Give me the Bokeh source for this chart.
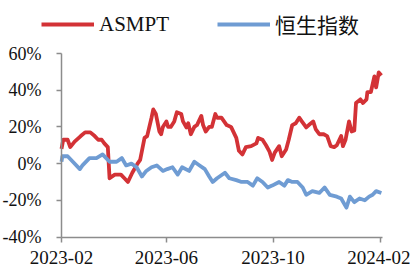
import pandas as pd
from bokeh.plotting import figure
from bokeh.models import (Legend, LegendItem, FixedTicker, PrintfTickFormatter, Range1d)
from bokeh.embed import file_html
from bokeh.resources import INLINE

# ---- data (cumulative return, %) ----
asmpt_dates = [
    "2023-02-01", "2023-02-03", "2023-02-08", "2023-02-11", "2023-02-16", "2023-02-23",
    "2023-02-28", "2023-03-06", "2023-03-11", "2023-03-15", "2023-03-19", "2023-03-22",
    "2023-03-26", "2023-03-28", "2023-04-03", "2023-04-10", "2023-04-14", "2023-04-18",
    "2023-04-23", "2023-04-29", "2023-05-02", "2023-05-07", "2023-05-10", "2023-05-15",
    "2023-05-17", "2023-05-20", "2023-05-24", "2023-05-26", "2023-05-28", "2023-06-01",
    "2023-06-03", "2023-06-06", "2023-06-10", "2023-06-13", "2023-06-18", "2023-06-20",
    "2023-06-24", "2023-06-26", "2023-06-29", "2023-07-03", "2023-07-06", "2023-07-11",
    "2023-07-13", "2023-07-16", "2023-07-20", "2023-07-23", "2023-07-27", "2023-07-29",
    "2023-08-03", "2023-08-09", "2023-08-14", "2023-08-20", "2023-08-23", "2023-08-27",
    "2023-08-31", "2023-09-06", "2023-09-12", "2023-09-14", "2023-09-19", "2023-09-23",
    "2023-09-27", "2023-09-30", "2023-10-03", "2023-10-08", "2023-10-11", "2023-10-16",
    "2023-10-19", "2023-10-23", "2023-10-27", "2023-10-31", "2023-11-03", "2023-11-08",
    "2023-11-11", "2023-11-16", "2023-11-19", "2023-11-23", "2023-11-28", "2023-12-02",
    "2023-12-06", "2023-12-10", "2023-12-13", "2023-12-18", "2023-12-20", "2023-12-23",
    "2023-12-27", "2023-12-30", "2024-01-02", "2024-01-04", "2024-01-09", "2024-01-12",
    "2024-01-16", "2024-01-17", "2024-01-21", "2024-01-25", "2024-01-27", "2024-01-30",
    "2024-02-02",
]
asmpt_values = [
    8, 13, 13, 9, 12, 15,
    17, 17, 15, 13, 13, 11,
    9, -8, -6, -6, -8, -10,
    -5, 0, 2, 14, 15, 25,
    29.5, 27, 17.5, 16, 20, 23,
    20, 20, 23, 28, 27, 23,
    19.7, 22, 16, 20, 21, 26,
    21, 17.5, 20, 20, 27, 25,
    25, 21, 20, 14, 7, 5,
    9, 9.5, 11, 14, 13, 10,
    6.5, 2, 6, 9.5, 4, 7.7,
    13, 21, 22, 25, 23, 19.7,
    21, 23, 18.6, 16, 16, 15,
    9.5, 9, 10, 15, 9.5, 13,
    23, 17.5, 18, 33, 35, 33,
    35, 39, 39, 47.5, 41.5, 49.7,
    48,
]

hsi_dates = [
    "2023-02-01", "2023-02-02", "2023-02-08", "2023-02-14", "2023-02-22", "2023-02-25",
    "2023-03-05", "2023-03-13", "2023-03-20", "2023-03-28", "2023-04-05", "2023-04-11",
    "2023-04-16", "2023-04-22", "2023-04-28", "2023-05-04", "2023-05-09", "2023-05-15",
    "2023-05-21", "2023-05-28", "2023-06-02", "2023-06-08", "2023-06-14", "2023-06-19",
    "2023-06-27", "2023-07-03", "2023-07-09", "2023-07-15", "2023-07-20", "2023-07-24",
    "2023-07-29", "2023-08-07", "2023-08-12", "2023-08-20", "2023-08-26", "2023-09-02",
    "2023-09-08", "2023-09-13", "2023-09-19", "2023-09-25", "2023-09-30", "2023-10-08",
    "2023-10-14", "2023-10-18", "2023-10-23", "2023-10-29", "2023-11-04", "2023-11-08",
    "2023-11-15", "2023-11-23", "2023-11-29", "2023-12-05", "2023-12-13", "2023-12-18",
    "2023-12-24", "2023-12-28", "2024-01-02", "2024-01-08", "2024-01-14", "2024-01-19",
    "2024-01-23", "2024-01-27", "2024-02-02",
]
hsi_values = [
    1, 4, 4, 1, -3, -1,
    3, 3, 5, 1, 1, 3,
    -1, 0, -2, -7, -4, -2,
    -1, -4, -3, -2, -6, -2,
    -4, 1, -1, -3, -7, -10,
    -8, -5, -8, -9, -10, -10,
    -12, -8, -10, -13, -12, -10,
    -12, -9, -10, -10, -13, -17,
    -15, -16, -13, -17, -18, -19,
    -24, -18, -21, -19, -20, -18,
    -17, -15, -16,
]

series_names = ["ASMPT", "恒生指数"]
y_ticks = [-40, -20, 0, 20, 40, 60]
x_tick_dates = ["2023-02-01", "2023-06-01", "2023-10-01", "2024-02-01"]
x_tick_labels = ["2023-02", "2023-06", "2023-10", "2024-02"]

RED = "#D33236"
BLUE = "#6F9CD3"
AXIS = "#8C8C8C"
FONT = "Times New Roman"

# ---- layout (pixels inside the figure) ----
W, H = 410, 267
AX_LEFT_PX = 61          # x pixel of the first x tick (y axis position)
AX_TICKSPAN_PX = 319     # pixels between first and last x tick
Y_BOT_PX = 236.5         # pixel row of the lowest y tick
Y_TOP_PX = 53.0          # pixel row of the highest y tick

t_first = pd.Timestamp(x_tick_dates[0])
t_last = pd.Timestamp(x_tick_dates[-1])
px_per_ms = AX_TICKSPAN_PX / ((t_last - t_first).total_seconds() * 1000.0)
xs = t_first - pd.Timedelta(milliseconds=AX_LEFT_PX / px_per_ms)
xe = t_first + pd.Timedelta(milliseconds=(W - AX_LEFT_PX) / px_per_ms)
px_per_pct = (Y_BOT_PX - Y_TOP_PX) / (y_ticks[-1] - y_ticks[0])
y_lo = y_ticks[0] - (H - Y_BOT_PX) / px_per_pct
y_hi = y_ticks[-1] + Y_TOP_PX / px_per_pct

p = figure(width=W, height=H, output_backend="svg", toolbar_location=None,
           x_axis_type="datetime",
           x_range=Range1d(xs, xe), y_range=Range1d(y_lo, y_hi),
           min_border_left=0, min_border_right=0, min_border_top=0,
           min_border_bottom=0)
p.outline_line_color = None
p.xgrid.visible = False
p.ygrid.visible = False
p.background_fill_color = "white"
p.border_fill_color = "white"

r1 = p.line(pd.to_datetime(asmpt_dates), asmpt_values, line_color=RED, line_width=3.8,
            line_join="round")
r2 = p.line(pd.to_datetime(hsi_dates), hsi_values, line_color=BLUE, line_width=3.8,
            line_join="round")

first_ms = t_first.value // 10**6
yax = p.yaxis[0]
xax = p.xaxis[0]

# y axis, placed at the first date
yax.fixed_location = first_ms
yax.bounds = (y_ticks[0], y_ticks[-1])
yax.ticker = FixedTicker(ticks=y_ticks)
yax.formatter = PrintfTickFormatter(format="%d%%")
yax.minor_tick_line_color = None
yax.major_tick_in = 0
yax.major_tick_out = 5
yax.major_label_standoff = 15
yax.major_label_text_font_size = "18px"

# x axis, placed at the lowest y tick
tick_ms = [pd.Timestamp(d).value // 10**6 for d in x_tick_dates]
xax.fixed_location = y_ticks[0]
xax.ticker = FixedTicker(ticks=tick_ms)
xax.bounds = (first_ms, pd.Timestamp("2024-02-03").value // 10**6)
xax.major_label_overrides = {t: lab for t, lab in zip(tick_ms, x_tick_labels)}
xax.minor_tick_line_color = None
xax.major_tick_in = 0
xax.major_tick_out = 5
xax.major_label_standoff = 9
xax.major_label_text_font_size = "19px"

for ax in (xax, yax):
    ax.axis_line_color = AXIS
    ax.axis_line_width = 1.5
    ax.major_tick_line_color = AXIS
    ax.major_tick_line_width = 1.5
    ax.major_label_text_font = FONT
    ax.major_label_text_color = "#111111"

legend = Legend(items=[LegendItem(label=series_names[0], renderers=[r1]),
                       LegendItem(label=series_names[1], renderers=[r2])],
                location=(41, H - 39), orientation="horizontal",
                glyph_width=53, glyph_height=20, label_standoff=5, spacing=48,
                padding=0, margin=0, border_line_color=None, background_fill_alpha=0,
                label_text_font="Liberation Serif, Noto Sans CJK SC",
                label_text_font_size="21px", label_text_color="#111111")
p.add_layout(legend, "center")

open("out.html", "w").write(file_html(p, INLINE))
